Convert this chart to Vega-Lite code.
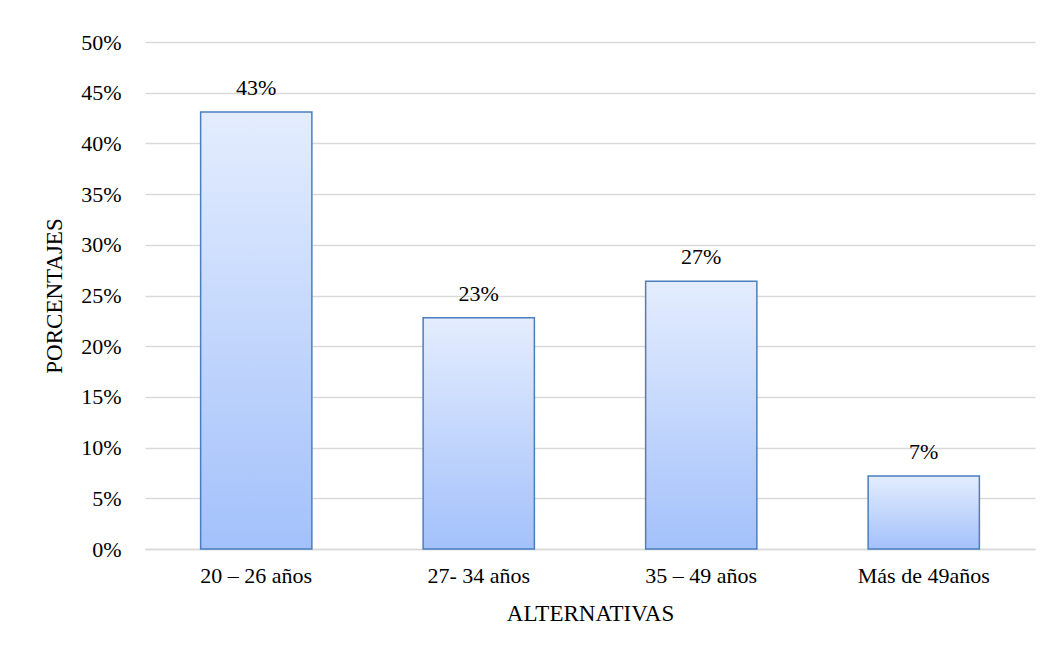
{
  "$schema": "https://vega.github.io/schema/vega-lite/v6.json",
  "autosize": "none",
  "width": 890,
  "height": 507,
  "padding": {"left": 145, "top": 42, "right": 19, "bottom": 109},
  "background": "white",
  "config": {
    "view": {"stroke": null},
    "font": "'Liberation Serif', 'Times New Roman', serif",
    "axis": {
      "labelFont": "'Liberation Serif', 'Times New Roman', serif",
      "titleFont": "'Liberation Serif', 'Times New Roman', serif",
      "labelFontSize": 22,
      "titleFontSize": 23,
      "labelColor": "#000000",
      "titleColor": "#000000",
      "titleFontWeight": "normal",
      "gridColor": "#d9d9d9",
      "domainColor": "#d9d9d9",
      "ticks": false
    }
  },
  "data": {
    "values": [
      {"alternativa": "20 – 26 años", "porcentaje": 0.431, "etiqueta": "43%"},
      {"alternativa": "27- 34  años", "porcentaje": 0.228, "etiqueta": "23%"},
      {"alternativa": "35 – 49 años", "porcentaje": 0.264, "etiqueta": "27%"},
      {"alternativa": "Más de 49años", "porcentaje": 0.072, "etiqueta": "7%"}
    ]
  },
  "encoding": {
    "x": {
      "field": "alternativa",
      "type": "nominal",
      "sort": null,
      "scale": {"paddingInner": 0.5, "paddingOuter": 0.25},
      "axis": {
        "title": "ALTERNATIVAS",
        "labelAngle": 0,
        "labelPadding": 16,
        "titlePadding": 16,
        "domain": true,
        "domainWidth": 1.5,
        "grid": false
      }
    },
    "y": {
      "field": "porcentaje",
      "type": "quantitative",
      "scale": {"domain": [0, 0.5], "nice": false},
      "axis": {
        "title": "PORCENTAJES",
        "format": ".0%",
        "values": [0, 0.05, 0.1, 0.15, 0.2, 0.25, 0.3, 0.35, 0.4, 0.45, 0.5],
        "labelPadding": 24,
        "titlePadding": 14,
        "domain": false,
        "grid": true,
        "gridWidth": 1.5
      }
    }
  },
  "layer": [
    {
      "mark": {
        "type": "bar",
        "stroke": "#4a7ebf",
        "strokeWidth": 1.5,
        "color": {
          "gradient": "linear",
          "x1": 0, "y1": 0, "x2": 0, "y2": 1,
          "stops": [
            {"offset": 0, "color": "#e4edfe"},
            {"offset": 1, "color": "#a3c1fb"}
          ]
        }
      }
    },
    {
      "mark": {
        "type": "text",
        "baseline": "alphabetic",
        "dy": -17,
        "fontSize": 22,
        "font": "'Liberation Serif', 'Times New Roman', serif",
        "color": "#000000"
      },
      "encoding": {"text": {"field": "etiqueta"}}
    }
  ]
}
